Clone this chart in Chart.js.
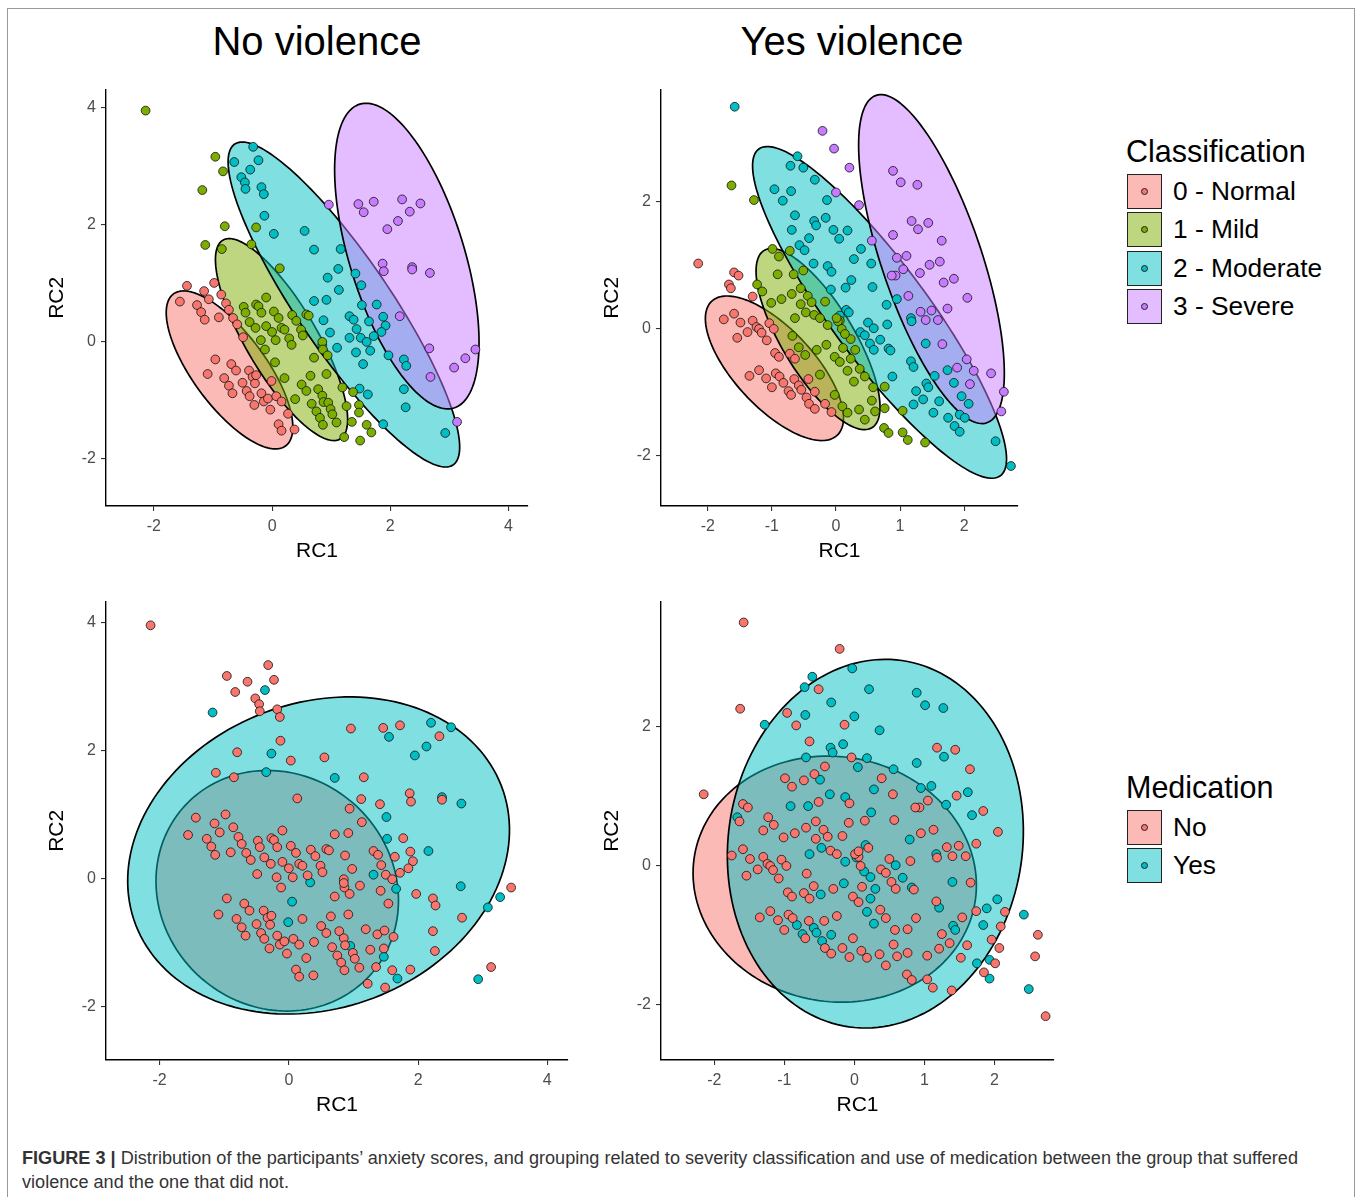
<!DOCTYPE html>
<html>
<head>
<meta charset="utf-8">
<script src="https://cdn.jsdelivr.net/npm/chart.js@4.4.1/dist/chart.umd.min.js"></script>
<style>
  body { margin: 0; background: #fff; width: 1358px; height: 1197px; overflow: hidden; position: relative;
         font-family: 'Liberation Sans', Arial, sans-serif; }
  #frame { position: absolute; left: 7px; top: 8px; width: 1346px; height: 1210px; border: 1px solid #999; }
  canvas { position: absolute; }
  .title { position: absolute; width: 400px; text-align: center; font-size: 40px; line-height: 40px; color: #000; }
  .lg-title { position: absolute; left: 1126px; font-size: 30.5px; line-height: 30px; color: #000; }
  .key { position: absolute; left: 1127px; width: 35px; height: 35px; box-sizing: border-box; border: 1.5px solid #222; }
  .dot { position: absolute; left: 50%; top: 50%; width: 7px; height: 7px; margin: -3.5px 0 0 -3.5px;
         border-radius: 50%; box-sizing: border-box; border: 1px solid #222; }
  .lab { position: absolute; left: 1173px; font-size: 26.3px; line-height: 35px; height: 35px; color: #000; white-space: nowrap; }
  #cap { position: absolute; left: 22px; top: 1146px; font-size: 17.5px; line-height: 24px; color: #333;
         white-space: nowrap; transform-origin: 0 0; }
</style>
</head>
<body>
<div id="frame"></div>
<div class="title" style="left:117px; top:21px;">No violence</div>
<div class="title" style="left:652px; top:21px;">Yes violence</div>

<canvas id="noViolenceClass" width="508" height="501" style="left:30px; top:75px;"></canvas>
<canvas id="yesViolenceClass" width="443" height="501" style="left:585px; top:75px;"></canvas>
<canvas id="noViolenceMed" width="548" height="543" style="left:30px; top:587px;"></canvas>
<canvas id="yesViolenceMed" width="479" height="543" style="left:585px; top:587px;"></canvas>

<div id="legends"></div>

<div id="cap">
  <span id="cap1"><b>FIGURE 3 |</b> Distribution of the participants’ anxiety scores, and grouping related to severity classification and use of medication between the group that suffered</span><br>
  <span>violence and the one that did not.</span>
</div>

<script>
// categories / colours
const classLabels = ['0 - Normal', '1 - Mild', '2 - Moderate', '3 - Severe'];
const classColors = ['#F8766D', '#7CAE00', '#00BFC4', '#C77CFF'];
const medLabels = ['No', 'Yes'];
const medColors = ['#F8766D', '#00BFC4'];

// tick labels
const wideTicks = [-2, 0, 2, 4];
const unitTicks = [-2, -1, 0, 1, 2];
const yTicksShort = [-2, 0, 2];

// points: [RC1, RC2, medication (0 = No, 1 = Yes)]
const noViolenceNormal = [
  [-1.44,0.95,0],[-1.15,0.86,0],[-0.98,1.00,0],[-1.07,0.72,0],[-1.56,0.68,0],[-1.27,0.62,0],[-1.20,0.50,0],
  [-1.14,0.37,0],[-0.86,0.80,0],[-0.78,0.65,0],[-0.73,0.54,0],[-0.90,0.41,0],[-0.66,0.40,0],[-0.59,0.29,0],
  [-0.49,0.07,0],[-0.96,-0.31,0],[-1.09,-0.56,0],[-0.69,-0.39,0],[-0.61,-0.50,0],[-0.81,-0.63,0],[-0.73,-0.76,0],
  [-0.67,-0.89,0],[-0.50,-0.71,0],[-0.39,-0.50,0],[-0.33,-0.61,0],[-0.29,-0.72,0],[-0.27,-0.58,0],[-0.43,-0.85,0],
  [-0.38,-0.94,0],[-0.18,-0.89,0],[-0.14,-1.03,0],[-0.07,-0.98,0],[-0.01,-0.68,1],[-0.03,-1.17,0],[0.07,-0.94,0],
  [0.16,-1.03,0],[-0.30,-1.09,0],[0.11,-1.42,0],[0.16,-1.53,0],[0.27,-1.24,0],[0.38,-1.51,0]
];
const noViolenceMild = [
  [-2.14,3.95,0],[-0.96,3.16,0],[-0.83,2.91,0],[-1.18,2.59,1],[-0.80,1.97,0],[-1.13,1.65,0],[-0.85,1.58,0],
  [-0.35,1.66,1],[-0.27,1.95,1],[0.13,1.25,0],[-0.10,0.75,0],[-0.48,0.59,0],[-0.27,0.63,0],[-0.23,0.60,0],
  [-0.18,0.49,0],[-0.45,0.49,0],[-0.38,0.33,0],[-0.28,0.23,0],[-0.10,0.26,0],[0.03,0.51,0],[0.11,0.40,0],
  [0.00,0.16,0],[0.16,0.23,0],[0.21,0.20,0],[0.34,0.45,0],[0.41,0.35,0],[0.58,0.46,0],[0.62,0.44,0],
  [0.49,0.20,0],[0.52,0.10,0],[0.29,0.05,0],[0.33,-0.06,1],[0.06,0.02,0],[-0.19,0.02,0],[-0.12,-0.14,0],
  [0.05,-0.36,1],[0.21,-0.63,0],[0.71,-0.28,0],[0.85,-0.01,0],[0.86,-0.14,0],[0.94,-0.24,0],[0.65,-0.59,0],
  [0.92,-0.56,0],[0.50,-0.74,0],[0.58,-0.85,0],[0.78,-0.82,0],[0.85,-0.93,0],[0.87,-1.04,0],[0.95,-1.05,1],
  [0.99,-1.16,0],[1.02,-1.25,0],[0.67,-1.07,0],[0.75,-1.20,0],[0.81,-1.31,0],[0.86,-1.43,0],[1.09,-1.39,0],
  [1.19,-0.79,0],[1.26,-1.11,0],[1.37,-0.87,0],[1.47,-1.09,0],[1.47,-1.22,1],[1.35,-1.38,0],[1.60,-1.43,0],
  [1.68,-1.56,1],[1.49,-1.70,0],[1.22,-1.64,0],[0.39,-0.99,0]
];
const noViolenceModerate = [
  [-0.32,3.33,0],[-0.64,3.07,0],[-0.23,3.10,0],[-0.37,2.94,1],[-0.52,2.81,0],[-0.46,2.72,0],[-0.45,2.61,0],
  [-0.18,2.64,0],[-0.14,2.52,0],[-0.13,2.15,0],[0.03,1.84,0],[0.55,1.89,0],[0.71,1.57,1],[1.16,1.58,0],
  [1.12,1.24,0],[0.94,1.09,0],[1.41,1.16,0],[1.51,0.96,1],[1.13,0.88,0],[0.71,0.69,0],[0.92,0.71,0],
  [1.52,0.62,1],[1.77,0.63,0],[0.87,0.36,0],[0.98,0.15,0],[1.31,0.43,0],[1.38,0.37,0],[1.43,0.21,0],
  [1.31,0.06,1],[1.50,0.06,0],[1.60,-0.01,0],[1.66,-0.16,1],[1.64,0.34,0],[1.88,0.42,0],[1.92,0.27,0],
  [1.85,0.16,0],[1.72,0.09,0],[1.42,-0.19,0],[1.54,-0.39,0],[1.97,-0.24,0],[2.23,-0.31,0],[2.27,-0.42,0],
  [1.10,-0.11,0],[0.85,-0.07,0],[1.48,-0.81,0],[1.62,-0.91,0],[2.23,-0.82,0],[2.26,-1.13,0],[1.88,-1.42,0],
  [2.93,-1.57,1]
];
const noViolenceSevere = [
  [0.96,2.34,0],[1.46,2.35,0],[1.55,2.21,1],[1.72,2.39,0],[2.20,2.43,1],[2.33,2.22,0],[2.51,2.36,1],
  [2.13,2.06,1],[1.95,1.92,1],[1.87,1.33,0],[1.89,1.20,0],[2.37,1.27,1],[2.37,1.23,0],[2.67,1.17,1],
  [2.16,0.43,1],[2.66,-0.12,1],[2.68,-0.61,0],[3.08,-0.45,1],[3.27,-0.29,1],[3.44,-0.14,0],[3.13,-1.38,0]
];

const yesViolenceNormal = [
  [-2.15,1.03,0],[-1.59,0.89,0],[-1.52,0.84,0],[-1.67,0.70,1],[-1.64,0.64,0],[-1.30,0.51,0],[-1.59,0.24,0],
  [-1.75,0.15,0],[-1.49,0.10,0],[-1.30,0.13,0],[-1.38,-0.05,0],[-1.54,-0.14,0],[-1.24,0.03,0],[-1.20,0.00,0],
  [-1.16,-0.06,0],[-1.08,-0.18,0],[-1.04,0.09,0],[-0.97,0.00,0],[-0.95,-0.38,0],[-0.89,-0.44,0],[-0.72,-0.39,0],
  [-0.64,-0.47,0],[-1.20,-0.65,0],[-1.35,-0.74,0],[-1.09,-0.78,0],[-1.00,-0.92,0],[-0.94,-0.70,0],[-0.88,-0.75,0],
  [-0.82,-0.85,1],[-0.74,-0.98,1],[-0.70,-1.04,0],[-0.65,-0.79,0],[-0.58,-0.89,1],[-0.54,-0.96,1],[-0.43,-0.79,0],
  [-0.33,-0.99,1],[-0.46,-1.08,1],[-0.42,-1.18,0],[-0.33,-1.26,0],[-0.17,-1.18,0],[-0.07,-1.31,0]
];
const yesViolenceMild = [
  [-1.63,2.26,0],[-1.28,2.03,1],[-0.99,1.26,0],[-0.89,1.14,0],[-0.72,1.23,0],[-0.91,0.86,1],[-0.66,0.86,1],
  [-0.51,0.92,0],[-1.23,0.70,0],[-1.15,0.59,0],[-0.85,0.47,0],[-0.69,0.55,0],[-0.55,0.64,0],[-0.44,0.52,0],
  [-1.01,0.41,0],[-0.55,0.39,0],[-0.38,0.42,0],[-0.47,0.26,1],[-0.34,0.22,0],[-0.17,0.43,0],[-0.25,0.17,0],
  [-0.13,0.06,1],[-0.64,0.17,1],[-0.68,-0.11,0],[-0.58,-0.29,0],[-0.48,-0.41,1],[-0.30,-0.33,0],[-0.15,-0.25,1],
  [-0.02,-0.44,0],[0.11,-0.30,0],[0.23,-0.47,1],[0.06,-0.52,0],[0.18,-0.66,1],[-0.25,-0.72,0],[-0.02,-1.04,0],
  [0.10,-1.22,0],[0.18,-1.32,0],[0.36,-1.27,0],[0.45,-1.43,0],[0.37,-0.63,0],[0.45,-0.75,0],[0.58,-0.92,0],
  [0.56,-1.13,0],[0.61,-1.30,0],[0.28,-0.83,1],[0.23,-0.16,1],[0.30,-0.33,1],[0.76,-0.91,0],[0.76,-1.25,0],
  [0.75,-1.56,0],[0.82,-1.64,0],[1.04,-1.29,0],[1.04,-1.63,0],[1.12,-1.75,0],[1.39,-1.79,0],[0.06,0.13,0],
  [0.03,0.12,1],[0.09,0.00,0],[0.14,-0.08,1],[0.01,0.17,0]
];
const yesViolenceModerate = [
  [-1.58,3.50,0],[-0.60,2.72,1],[-0.71,2.57,1],[-0.51,2.54,0],[-0.33,2.35,1],[-0.96,2.20,0],[-0.70,2.17,1],
  [-0.83,2.02,0],[-0.14,2.03,0],[-0.64,1.79,0],[-0.34,1.70,1],[-0.31,1.63,1],[-0.69,1.56,1],[-0.42,1.43,0],
  [-0.04,1.56,0],[0.05,1.42,1],[0.18,1.55,1],[-0.16,1.75,1],[-0.57,1.32,0],[-0.49,1.24,1],[-0.35,1.03,1],
  [-0.13,0.99,1],[-0.07,0.90,0],[0.39,1.26,0],[0.28,1.10,1],[0.24,0.77,1],[-0.08,0.62,0],[0.15,0.65,0],
  [0.55,1.03,0],[0.57,0.66,0],[0.16,0.30,1],[0.20,0.26,0],[0.06,0.21,0],[0.50,0.10,0],[0.59,0.01,1],
  [0.79,0.38,1],[0.95,0.47,0],[0.80,0.07,0],[1.17,0.17,1],[1.18,0.12,0],[0.38,-0.05,0],[0.45,-0.10,0],
  [0.53,-0.23,0],[0.59,-0.33,0],[0.69,-0.17,1],[0.82,-0.31,1],[0.85,-0.34,0],[0.88,-0.75,0],[1.17,-0.51,0],
  [1.21,-0.60,1],[1.40,-0.23,1],[1.54,-0.74,0],[1.25,-0.98,0],[1.41,-0.86,1],[1.44,-0.92,1],[1.36,-1.11,0],
  [1.21,-1.19,0],[1.52,-1.32,0],[1.61,-1.14,0],[1.74,-0.65,0],[1.84,-0.85,1],[1.75,-1.40,1],[1.93,-1.35,1],
  [1.85,-1.53,0],[1.93,-1.62,1],[1.96,-1.06,0],[2.07,-1.18,0],[2.01,-1.40,0],[2.49,-1.77,1],[2.73,-2.16,0]
];
const yesViolenceSevere = [
  [-0.21,3.12,0],[-0.03,2.84,1],[0.21,2.54,1],[0.00,2.15,1],[0.36,1.95,1],[0.89,2.49,1],[1.01,2.31,1],
  [1.27,2.27,1],[1.18,1.70,0],[1.28,1.57,1],[1.44,1.67,0],[0.89,1.48,1],[1.65,1.39,0],[0.56,1.39,1],
  [0.95,1.12,1],[1.10,1.15,1],[1.05,0.94,0],[0.93,0.84,0],[0.87,0.84,0],[1.46,1.01,0],[1.62,1.06,1],
  [1.31,0.88,1],[1.68,0.73,1],[1.84,0.79,0],[2.05,0.49,0],[1.13,0.52,0],[1.74,0.32,0],[1.49,0.29,0],
  [1.32,0.27,0],[1.40,0.14,0],[1.59,0.14,0],[1.66,-0.24,0],[1.89,-0.61,1],[2.04,-0.48,1],[2.15,-0.66,0],
  [2.09,-0.87,0],[2.42,-0.70,1],[2.62,-0.99,0],[2.58,-1.30,0]
];

// ellipses: centre [RC1, RC2], semi-axes [a, b], angle (deg)
const noViolenceClassCentre = [[-0.72,-0.49],[0.16,0.03],[1.215,0.63],[2.28,1.46]];
const noViolenceClassAxes = [[1.61,0.62],[1.97,0.60],[3.31,0.79],[2.72,0.97]];
const noViolenceClassAngle = [-54,-59.8,-56.1,-73];
const yesViolenceClassCentre = [[-0.96,-0.62],[-0.28,-0.16],[0.68,0.26],[1.49,1.10]];
const yesViolenceClassAxes = [[1.44,0.62],[1.63,0.56],[3.19,0.76],[2.72,0.78]];
const yesViolenceClassAngle = [-47.3,-59,-53.8,-71.5];
const noViolenceMedCentre = [[-0.18,-0.19],[0.46,0.36]];
const noViolenceMedAxes = [[1.95,1.80],[3.03,2.38]];
const noViolenceMedAngle = [-45,21];
const yesViolenceMedCentre = [[-0.28,-0.19],[0.30,0.32]];
const yesViolenceMedAxes = [[2.03,1.76],[2.66,2.10]];
const yesViolenceMedAngle = [-10,81.8];

// axis ranges
const noViolenceRC1Range = [-2.81, 4.33], noViolenceRC2Range = [-2.82, 4.31];
const yesViolenceRC1Range = [-2.73, 2.84], yesViolenceRC2Range = [-2.79, 3.77];
const noViolenceMedRC1Range = [-2.83, 4.32], noViolenceMedRC2Range = [-2.83, 4.32];
const yesViolenceMedRC1Range = [-2.76, 2.85], yesViolenceMedRC2Range = [-2.79, 3.80];

const FONT = "'Liberation Sans', Arial, sans-serif";

function ellipsePlugin(centres, axes, angles, colors) {
  return {
    id: 'ellipses',
    beforeDatasetsDraw(chart) {
      const {ctx, chartArea, scales: {x, y}} = chart;
      ctx.save();
      ctx.beginPath();
      ctx.rect(chartArea.left, chartArea.top, chartArea.width, chartArea.height);
      ctx.clip();
      centres.forEach((c, k) => {
        const th = angles[k] * Math.PI / 180;
        const [a, b] = axes[k];
        ctx.beginPath();
        for (let i = 0; i <= 160; i++) {
          const t = i / 160 * 2 * Math.PI;
          const u = a * Math.cos(t), v = b * Math.sin(t);
          const px = x.getPixelForValue(c[0] + u * Math.cos(th) - v * Math.sin(th));
          const py = y.getPixelForValue(c[1] + u * Math.sin(th) + v * Math.cos(th));
          if (i === 0) ctx.moveTo(px, py); else ctx.lineTo(px, py);
        }
        ctx.closePath();
        ctx.fillStyle = colors[k] + '80';
        ctx.fill();
        ctx.lineWidth = 1.7;
        ctx.strokeStyle = '#000';
        ctx.stroke();
      });
      ctx.restore();
    }
  };
}

function scaleOpts(isY, range, ticks) {
  return {
    type: 'linear',
    position: isY ? 'left' : 'bottom',
    min: range[0],
    max: range[1],
    grid: { display: true, drawOnChartArea: false, drawTicks: true, tickLength: 5, color: '#333', lineWidth: 1.1 },
    border: { display: true, color: '#000', width: 1.4 },
    ticks: { color: '#4d4d4d', font: { family: FONT, size: 16 }, padding: isY ? 5 : 6,
             autoSkip: false, maxRotation: 0, callback: v => String(v) },
    afterBuildTicks: s => { s.ticks = ticks.map(v => ({ value: v })); },
    title: { display: true, text: isY ? 'RC2' : 'RC1', color: '#000', font: { family: FONT, size: 21 },
             padding: isY ? { top: 15, bottom: 0 } : { top: 0, bottom: 12 } },
    afterFit: s => { if (isY) s.width = 76; else s.height = 70; }
  };
}

function pointSet(rows, color) {
  return {
    data: rows.map(p => ({ x: p[0], y: p[1] })),
    backgroundColor: color,
    borderColor: '#111',
    borderWidth: 0.8,
    pointRadius: 4.4,
    pointHoverRadius: 4.4
  };
}

function makeChart(id, datasets, xr, yr, xt, yt, plugin) {
  return new Chart(document.getElementById(id), {
    type: 'scatter',
    data: { datasets },
    options: {
      responsive: false,
      animation: false,
      devicePixelRatio: 1,
      layout: { padding: { top: 10, right: 10, left: 0, bottom: 0 } },
      plugins: { legend: { display: false }, tooltip: { enabled: false } },
      scales: { x: scaleOpts(false, xr, xt), y: scaleOpts(true, yr, yt) }
    },
    plugins: [plugin]
  });
}

const noGroups = [noViolenceNormal, noViolenceMild, noViolenceModerate, noViolenceSevere];
const yesGroups = [yesViolenceNormal, yesViolenceMild, yesViolenceModerate, yesViolenceSevere];

makeChart('noViolenceClass',
  noGroups.map((g, i) => pointSet(g, classColors[i])),
  noViolenceRC1Range, noViolenceRC2Range, wideTicks, wideTicks,
  ellipsePlugin(noViolenceClassCentre, noViolenceClassAxes, noViolenceClassAngle, classColors));

makeChart('yesViolenceClass',
  yesGroups.map((g, i) => pointSet(g, classColors[i])),
  yesViolenceRC1Range, yesViolenceRC2Range, unitTicks, yTicksShort,
  ellipsePlugin(yesViolenceClassCentre, yesViolenceClassAxes, yesViolenceClassAngle, classColors));

const byMed = (groups, m) => groups.flat().filter(p => p[2] === m);

makeChart('noViolenceMed',
  [0, 1].map(m => pointSet(byMed(noGroups, m), medColors[m])),
  noViolenceMedRC1Range, noViolenceMedRC2Range, wideTicks, wideTicks,
  ellipsePlugin(noViolenceMedCentre, noViolenceMedAxes, noViolenceMedAngle, medColors));

makeChart('yesViolenceMed',
  [0, 1].map(m => pointSet(byMed(yesGroups, m), medColors[m])),
  yesViolenceMedRC1Range, yesViolenceMedRC2Range, unitTicks, yTicksShort,
  ellipsePlugin(yesViolenceMedCentre, yesViolenceMedAxes, yesViolenceMedAngle, medColors));

// legends
function legend(title, titleTop, labels, colors, firstKeyTop) {
  const box = document.getElementById('legends');
  const t = document.createElement('div');
  t.className = 'lg-title';
  t.style.top = titleTop + 'px';
  t.textContent = title;
  box.appendChild(t);
  labels.forEach((lab, i) => {
    const top = firstKeyTop + i * 38.4;
    const k = document.createElement('div');
    k.className = 'key';
    k.style.top = top + 'px';
    k.style.background = colors[i] + '80';
    const d = document.createElement('div');
    d.className = 'dot';
    d.style.background = colors[i];
    k.appendChild(d);
    box.appendChild(k);
    const l = document.createElement('div');
    l.className = 'lab';
    l.style.top = top + 'px';
    l.textContent = lab;
    box.appendChild(l);
  });
}
legend('Classification', 135.6, classLabels, classColors, 174);
legend('Medication', 771.6, medLabels, medColors, 810);

// fit caption to the printed width
const capLine = document.getElementById('cap1');
const capScale = 1276 / capLine.getBoundingClientRect().width;
document.getElementById('cap').style.transform = 'scaleX(' + capScale + ')';
</script>
</body>
</html>
